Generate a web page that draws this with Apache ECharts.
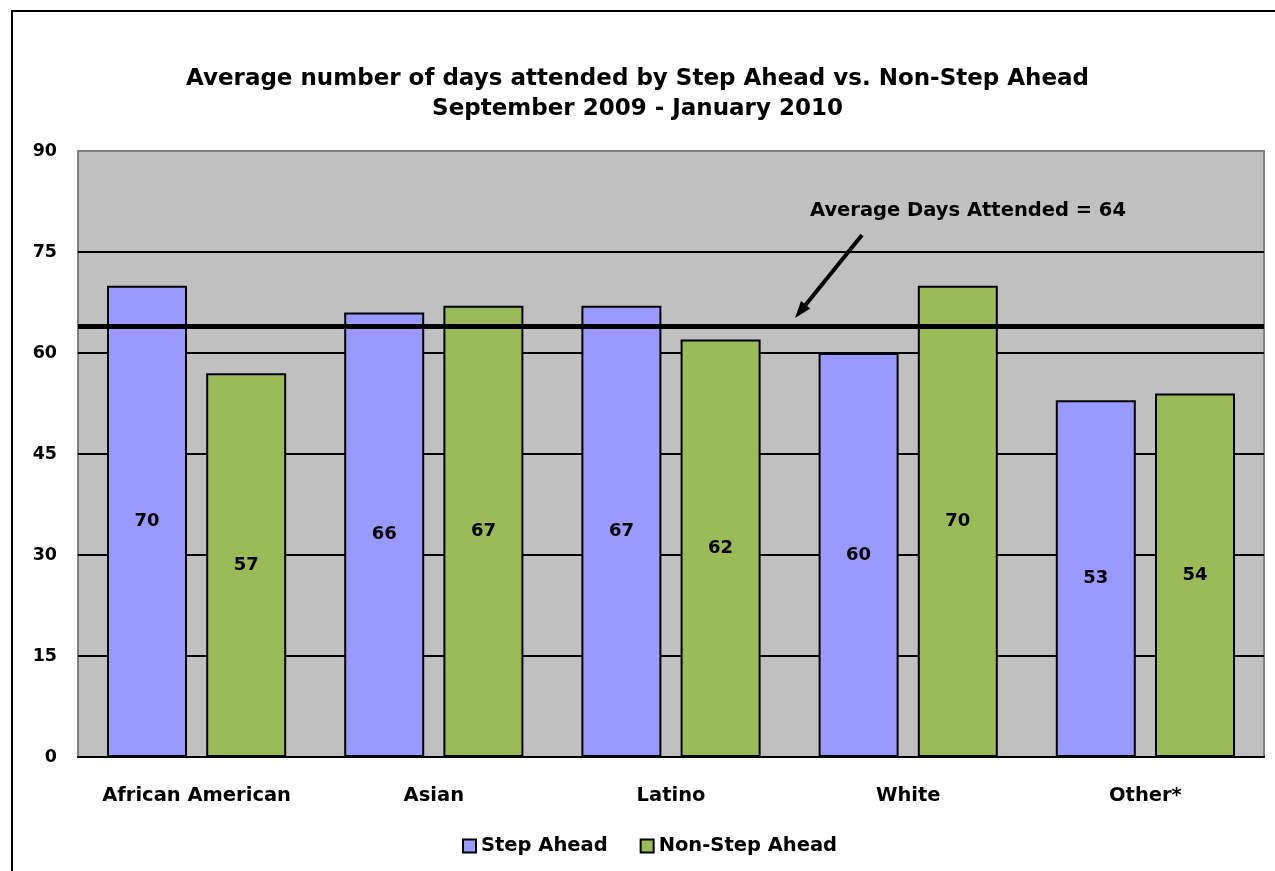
<!DOCTYPE html>
<html>
<head>
<meta charset="utf-8">
<script src="https://cdn.jsdelivr.net/npm/echarts@6/dist/echarts.min.js"></script>
<style>
  html, body { margin: 0; padding: 0; background: #fff; }
  #chart { width: 1275px; height: 871px; }
</style>
</head>
<body>
<div id="chart"></div>
<script>
// Attendance by group, Sept 2009 - Jan 2010
var categories = ['African American', 'Asian', 'Latino', 'White', 'Other*'];
var stepAhead = [70, 66, 67, 60, 53];
var nonStepAhead = [57, 67, 62, 70, 54];
var averageDays = 64;
var yTicks = { min: 0, max: 90, interval: 15 };

var FONT = 'DejaVu Sans';
var W = 'bold';
var chart = echarts.init(document.getElementById('chart'));

var barLabel = {
  show: true,
  position: 'inside',
  color: '#000',
  fontFamily: FONT,
  fontWeight: W,
  fontSize: 18
};

var option = {
  backgroundColor: '#fff',
  animation: false,
  title: {
    text: 'Average number of days attended by Step Ahead vs. Non-Step Ahead\nSeptember 2009 - January 2010',
    left: 'center',
    top: 59,
    textStyle: {
      fontFamily: FONT,
      fontWeight: W,
      fontSize: 23,
      lineHeight: 30,
      color: '#000'
    }
  },
  legend: {
    bottom: 10,
    left: 457,
    itemWidth: 13,
    itemHeight: 13,
    itemGap: 32,
    icon: 'rect',
    textStyle: { fontFamily: FONT, fontWeight: W, fontSize: 19.5, color: '#000' },
    data: ['Step Ahead', 'Non-Step Ahead']
  },
  grid: {
    left: 78, right: 11, top: 151, bottom: 114,
    show: true,
    backgroundColor: '#C0C0C0',
    borderColor: '#808080',
    borderWidth: 2
  },
  xAxis: {
    type: 'category',
    data: categories,
    axisLine: { lineStyle: { color: '#000', width: 2 } },
    axisTick: { show: false },
    axisLabel: {
      interval: 0,
      margin: 29,
      color: '#000',
      fontFamily: FONT,
      fontWeight: W,
      fontSize: 19.5
    }
  },
  yAxis: {
    type: 'value',
    min: yTicks.min,
    max: yTicks.max,
    interval: yTicks.interval,
    axisLine: { show: false },
    axisTick: { show: false },
    axisLabel: {
      margin: 21,
      color: '#000',
      fontFamily: FONT,
      fontWeight: W,
      fontSize: 17.5
    },
    splitLine: {
      showMaxLine: false,
      lineStyle: { color: '#000', width: 2 }
    }
  },
  series: [
    {
      name: 'Step Ahead',
      type: 'bar',
      data: stepAhead,
      barWidth: 80,
      barGap: '24%',
      itemStyle: { color: '#9999FF', borderColor: '#000', borderWidth: 2 },
      label: barLabel,
      markLine: {
        silent: true,
        symbol: ['none', 'none'],
        label: { show: false },
        lineStyle: { color: '#000', width: 5, type: 'solid' },
        data: [{ yAxis: averageDays }],
        z: 10
      }
    },
    {
      name: 'Non-Step Ahead',
      type: 'bar',
      data: nonStepAhead,
      barWidth: 80,
      itemStyle: { color: '#9BBB59', borderColor: '#000', borderWidth: 2 },
      label: barLabel
    }
  ]
};

chart.setOption(option);

// Annotation arrow pointing at the average line, anchored to the value axis
var tip = chart.convertToPixel({ gridIndex: 0 }, [2.5, averageDays]);
var lineY = tip[1];
var tipX = 795, tipY = lineY - 8;
var tailX = 862, tailY = lineY - 91;
var ang = Math.atan2(tipY - tailY, tipX - tailX);
var headLen = 17, headHalf = 6;
var bx = tipX - headLen * Math.cos(ang), by = tipY - headLen * Math.sin(ang);
var px = -Math.sin(ang) * headHalf, py = Math.cos(ang) * headHalf;

chart.setOption({
  graphic: [
    {
      type: 'rect',
      shape: { x: 12, y: 11, width: 1300, height: 900 },
      style: { fill: 'none', stroke: '#000', lineWidth: 2 },
      silent: true,
      z: 100
    },
    {
      type: 'text',
      left: 810,
      top: lineY - 125,
      style: {
        text: 'Average Days Attended = ' + averageDays,
        fontFamily: FONT,
        fontWeight: W,
        fontSize: 19.5,
        fill: '#000'
      },
      z: 100
    },
    {
      type: 'line',
      shape: { x1: tailX, y1: tailY, x2: bx, y2: by },
      style: { stroke: '#000', lineWidth: 4 },
      z: 100
    },
    {
      type: 'polygon',
      shape: { points: [[tipX, tipY], [bx + px, by + py], [bx - px, by - py]] },
      style: { fill: '#000' },
      z: 100
    }
  ]
});
</script>
</body>
</html>
